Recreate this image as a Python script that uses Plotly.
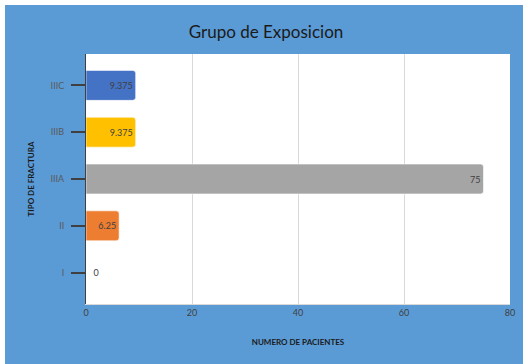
import plotly.graph_objects as go

categories = ["I", "II", "IIIA", "IIIB", "IIIC"]
values = [0, 6.25, 75, 9.375, 9.375]
labels = ["\u00a0\u00a00", "6.25", "75", "9.375", "9.375"]
colors = ["#5B9BD5", "#ED7D31", "#A5A5A5", "#FFC000", "#4472C4"]
x_ticks = [0, 20, 40, 60, 80]

L, R, T, B = 86, 13, 54, 60
W, H = 523, 364
pw, ph = W - L - R, H - T - B

def px(x):
    return (x - L) / pw

def py(y):
    return (H - B - y) / ph

fig = go.Figure()
fig.add_trace(go.Bar(
    y=categories, x=values, orientation="h",
    marker=dict(color=colors, cornerradius=3, line=dict(color="rgba(255,255,255,0.6)", width=1)),
    text=labels,
    textposition=["outside", "inside", "inside", "inside", "inside"],
    insidetextanchor="end",
    textfont=dict(size=9, color="#404040", family="Lato"),
    outsidetextfont=dict(size=9, color="#404040", family="Lato"),
    cliponaxis=False,
    hoverinfo="skip",
))

fig.update_layout(
    width=W, height=H,
    margin=dict(l=L, r=R, t=T, b=B, autoexpand=False),
    paper_bgcolor="#5B9BD5",
    plot_bgcolor="white",
    bargap=0.36,
    showlegend=False,
    font=dict(family="Lato", color="#404040"),
    title=dict(text="Grupo de Exposicion", x=266 / W, xanchor="center", xref="container",
               y=1 - 32 / H, yanchor="middle",
               font=dict(size=17, color="#1a1a1a", family="Lato")),
    xaxis=dict(range=[0, 80], tickvals=x_ticks, showgrid=True, gridcolor="#D9D9D9",
               gridwidth=1, zeroline=False, showline=True, linecolor="#D9D9D9",
               ticks="", tickfont=dict(size=9, color="#404040"), automargin=False,
               title=dict(text="<b>NUMERO DE PACIENTES</b>", standoff=22,
                          font=dict(size=8, color="#1a1a1a"))),
    yaxis=dict(range=[-0.67, 4.67], showgrid=False, zeroline=False,
               showline=True, linecolor="#404040", linewidth=1,
               ticks="outside", ticklen=14, tickcolor="#404040", tickwidth=1.5,
               ticklabelstandoff=5, automargin=False,
               tickfont=dict(size=9, color="#595959"),
               title=dict(text="<b>TIPO DE FRACTURA</b>", standoff=14,
                          font=dict(size=8, color="#1a1a1a"))),
    shapes=[
        dict(type="rect", xref="paper", yref="paper", x0=px(0), x1=px(W), y0=py(0), y1=py(5),
             fillcolor="white", line=dict(width=0), layer="above"),
        dict(type="rect", xref="paper", yref="paper", x0=px(0), x1=px(5), y0=py(0), y1=py(H),
             fillcolor="white", line=dict(width=0), layer="above"),
    ],
)

fig.write_html("out.html")
